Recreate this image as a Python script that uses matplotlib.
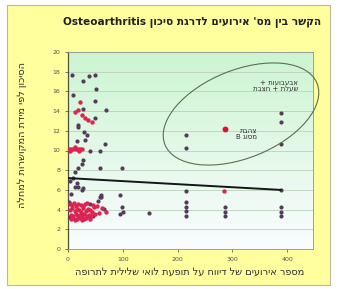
import numpy as np
import matplotlib
matplotlib.use("Agg")
import matplotlib.pyplot as plt
from matplotlib.patches import Ellipse, Rectangle

plt.rcParams['font.family'] = ['DejaVu Sans']

# Texts (logical order, Hebrew)
title = "הקשר בין מס' אירועים לדרגת סיכון Osteoarthritis"
xlabel = "מספר אירועים של דיווח על תופעת לואי שלילית לתרופה"
ylabel = "הסיכון לפי מידת המקושרות למחלה"
note_vacc = ["אבעבועות +", "שעלת + חצבת"]
note_hepb = ["צהבת", "מסוג B"]

xticks = [0, 100, 200, 300, 400]
yticks = [0, 2, 4, 6, 8, 10, 12, 14, 16, 18, 20]

# Dark points (events, risk)
dark_x = [7, 27, 39, 49, 51, 8.5, 49, 28, 69, 49, 19, 19, 29, 34, 31, 16, 68,
          40, 58, 28, 25, 19, 13, 58, 98, 10, 16, 19, 25, 61, 95, 13, 28,
          58, 98, 101, 95, 147, 60, 2, 5, 40, 45, 55, 65, 1, 3,
          215, 215, 215, 215, 215, 215, 215,
          287, 287, 287,
          388, 388, 388, 388, 388, 388, 388]
dark_y = [17.7, 17.1, 17.6, 17.7, 16.2, 15.6, 15.0, 14.2, 14.1, 13.3, 12.6, 12.4, 11.9, 11.6, 11.1, 11.0, 10.7,
          9.9, 9.9, 9.0, 8.6, 8.2, 7.8, 8.2, 8.2, 7.2, 6.7, 6.3, 6.0, 5.5, 5.5, 6.3, 6.2,
          5.3, 4.3, 3.8, 3.6, 3.7, 5.3, 4.8, 5.6, 4.6, 3.4, 4.9, 4.1, 3.2, 6.9,
          11.6, 10.3, 5.9, 4.8, 4.3, 3.9, 3.3,
          4.3, 3.8, 3.4,
          13.8, 12.9, 10.7, 6.0, 4.3, 3.8, 3.3]

# Red points
red_x = [22, 13, 19, 25, 31, 37, 43,
         2, 6, 10, 14, 18, 22, 26, 4, 12, 20,
         287, 285,
         4, 8, 12, 16, 20, 24, 28, 32, 36, 40, 44, 48,
         6, 10, 14, 18, 22, 26, 30, 34, 38, 42, 50, 56,
         3, 7, 11, 15, 19, 23, 27, 31, 35, 46, 52, 62, 70,
         5, 9, 13, 17, 21, 25, 29, 33, 40]
red_y = [14.9, 13.9, 14.1, 13.6, 13.3, 13.1, 12.9,
         10.2, 10.2, 10.2, 10.2, 10.2, 10.2, 10.2, 10.0, 10.4, 9.9,
         12.2, 5.9,
         4.0, 4.2, 3.9, 4.1, 4.0, 3.8, 4.2, 3.9, 4.1, 4.0, 3.8, 4.3,
         3.5, 3.4, 3.6, 3.3, 3.5, 3.4, 3.6, 3.3, 3.5, 3.4, 3.6, 3.7,
         4.6, 4.5, 4.7, 4.4, 4.6, 4.5, 4.4, 4.6, 4.7, 4.5, 4.4, 4.2, 3.8,
         3.0, 3.1, 2.9, 3.0, 3.1, 2.9, 3.0, 3.1, 3.0]

# Linear trend line (ends)
trend_x = [0, 388]
trend_y = [7.2, 6.0]


def vis(s):
    # crude RTL -> visual order for matplotlib
    out = []
    for w in s.split(" ")[::-1]:
        if any('\u0590' <= c <= '\u05ff' for c in w):
            out.append(w[::-1])
        else:
            out.append(w)
    return " ".join(out)


fig = plt.figure(figsize=(3.41, 2.89), dpi=100)
fig.patch.set_facecolor("white")
fig.patches.append(Rectangle((7 / 341, 4 / 289), 323 / 341, 280 / 289,
                             transform=fig.transFigure, facecolor="#ffff9e",
                             edgecolor="#b8b8a0", linewidth=0.8, zorder=-5))

ax = fig.add_axes([68 / 341, 40 / 289, 245 / 341, 197 / 289])
ax.set_facecolor("white")

# vertical gradient: light green at top -> white at bottom
grad = np.linspace(0, 1, 256).reshape(-1, 1)
top = np.array([0.80, 0.96, 0.82])
bot = np.array([0.98, 0.99, 1.0])
img = bot + (top - bot) * grad
ax.imshow(img[:, None, :].repeat(2, axis=1), extent=[0, 1, 0, 1], origin="lower",
          aspect="auto", transform=ax.transAxes, zorder=0)

ax.set_xlim(0, 447)
ax.set_ylim(0, 20)
ax.set_xticks(xticks)
ax.set_yticks(yticks)
ax.yaxis.grid(True, color="#bccfbc", linewidth=0.6, zorder=1)
ax.set_axisbelow(True)
ax.tick_params(labelsize=4.5, labelcolor="#505050", length=2.5, width=0.6,
               color="#606060", pad=3)
for side in ["top", "right", "bottom"]:
    ax.spines[side].set_color("#909090")
    ax.spines[side].set_linewidth(0.6)
ax.spines["left"].set_color("#505040")
ax.spines["left"].set_linewidth(0.9)

ax.scatter(dark_x, dark_y, s=9, color="#553a5a", zorder=3, linewidths=0)
ax.scatter(red_x, red_y, s=10, color="#dc2452", zorder=3, linewidths=0)
ax.scatter([287], [12.2], s=18, color="#e0102e", zorder=4, linewidths=0)
ax.plot(trend_x, trend_y, color="#151515", linewidth=1.4, zorder=5)

# annotations
ax.text(420, 16.6, vis(note_vacc[0]) + "\n" + vis(note_vacc[1]), ha="right",
        va="center", fontsize=5, color="#303030", linespacing=1.1, zorder=6)
ax.text(345, 11.7, vis(note_hepb[0]) + "\n" + vis(note_hepb[1]), ha="right",
        va="center", fontsize=5, color="#303030", linespacing=1.1, zorder=6)
fig.patches.append(Ellipse((2.41, 1.75), 1.64, 0.88, angle=22,
                           transform=fig.dpi_scale_trans, fill=False,
                           edgecolor="#5e6e50", linewidth=0.8, zorder=10))

fig.text(192 / 341, 1 - 23 / 289, vis(title), ha="center", va="center",
         fontsize=7.6, fontweight="bold", color="#202020")
fig.text(190 / 341, 1 - 272 / 289, vis(xlabel), ha="center", va="center",
         fontsize=7.0, color="#303030")
fig.text(22 / 341, 1 - 135 / 289, vis(ylabel), ha="center", va="center",
         fontsize=7.0, color="#303030", rotation=90)

fig.savefig("out.png", dpi=100)
